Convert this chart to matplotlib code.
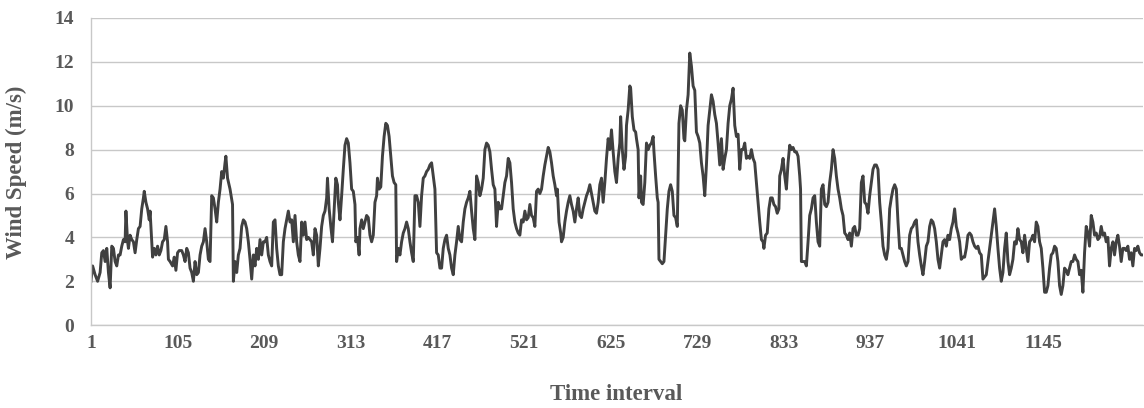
import matplotlib
matplotlib.use("Agg")
import matplotlib.pyplot as plt

time_index = [
    1, 3, 6, 9, 12, 14, 16, 18, 20, 22, 24, 26, 28, 30, 32, 34, 36, 38, 40, 42,
    43, 45, 46, 48, 50, 52, 54, 56, 58, 60, 62, 64, 65, 67, 69, 71, 72, 74, 75, 77,
    79, 81, 83, 85, 87, 89, 91, 93, 94, 96, 99, 101, 103, 105, 107, 110, 112, 114, 116, 118,
    120, 122, 124, 126, 128, 130, 132, 134, 136, 138, 140, 142, 144, 146, 148, 150, 152, 154, 156, 158,
    160, 162, 163, 165, 168, 171, 172, 174, 176, 178, 180, 182, 184, 186, 188, 190, 192, 194, 196, 198,
    200, 202, 204, 206, 208, 210, 212, 214, 216, 218, 220, 222, 224, 226, 228, 230, 232, 234, 236, 238,
    240, 242, 244, 246, 248, 250, 252, 254, 256, 258, 260, 262, 264, 266, 268, 270, 272, 274, 276, 278,
    280, 282, 284, 285, 287, 289, 291, 293, 295, 297, 298, 300, 302, 304, 306, 308, 310, 312, 314, 316,
    318, 319, 321, 323, 324, 326, 328, 330, 332, 334, 336, 338, 340, 342, 344, 345, 347, 349, 351, 353,
    355, 357, 359, 361, 363, 365, 367, 368, 370, 372, 374, 376, 378, 380, 382, 384, 386, 388, 390, 392,
    394, 396, 398, 400, 402, 404, 406, 408, 410, 412, 414, 416, 418, 420, 422, 424, 426, 428, 430, 432,
    434, 436, 438, 440, 442, 444, 446, 448, 450, 452, 454, 456, 458, 460, 462, 464, 466, 468, 470, 472,
    474, 476, 478, 480, 482, 484, 486, 488, 490, 492, 494, 496, 498, 500, 502, 504, 506, 508, 510, 512,
    514, 516, 518, 520, 522, 524, 526, 528, 530, 532, 534, 536, 538, 540, 542, 544, 546, 548, 550, 552,
    554, 556, 558, 560, 561, 563, 565, 566, 568, 570, 572, 574, 576, 578, 580, 582, 584, 586, 588, 590,
    592, 594, 596, 598, 600, 602, 604, 606, 608, 610, 612, 614, 616, 618, 620, 622, 624, 626, 628, 630,
    632, 634, 636, 637, 639, 641, 643, 644, 646, 648, 649, 651, 653, 655, 656, 658, 659, 661, 662, 664,
    666, 668, 670, 672, 674, 676, 677, 679, 681, 682, 683, 685, 687, 689, 691, 693, 695, 697, 699, 701,
    703, 705, 707, 709, 711, 713, 714, 716, 718, 720, 722, 724, 726, 728, 730, 732, 734, 736, 738, 740,
    742, 744, 746, 748, 750, 752, 754, 756, 758, 760, 762, 764, 766, 768, 770, 772, 774, 776, 778, 780,
    782, 784, 786, 788, 790, 792, 794, 796, 798, 800, 802, 804, 806, 808, 809, 811, 813, 815, 817, 819,
    821, 823, 825, 827, 828, 830, 832, 834, 836, 838, 840, 842, 844, 846, 848, 850, 852, 853, 854, 856,
    858, 860, 862, 864, 866, 868, 870, 872, 874, 876, 878, 880, 882, 884, 886, 888, 890, 892, 894, 896,
    898, 900, 902, 904, 906, 908, 910, 912, 914, 916, 918, 920, 922, 924, 926, 928, 930, 932, 934, 936,
    938, 940, 942, 944, 946, 948, 950, 952, 954, 956, 958, 960, 962, 964, 966, 968, 970, 972, 974, 976,
    978, 980, 982, 984, 986, 988, 990, 992, 994, 996, 998, 1000, 1002, 1004, 1006, 1008, 1010, 1012, 1014, 1016,
    1018, 1020, 1022, 1024, 1026, 1028, 1030, 1032, 1034, 1036, 1038, 1040, 1042, 1044, 1046, 1048, 1050, 1052, 1054, 1056,
    1058, 1060, 1062, 1064, 1066, 1068, 1070, 1072, 1074, 1076, 1078, 1080, 1082, 1084, 1086, 1088, 1090, 1092, 1094, 1096,
    1098, 1100, 1102, 1104, 1106, 1108, 1110, 1112, 1114, 1116, 1118, 1120, 1122, 1124, 1126, 1128, 1130, 1132, 1134, 1136,
    1138, 1140, 1142, 1144, 1146, 1148, 1150, 1152, 1154, 1156, 1158, 1160, 1162, 1164, 1166, 1168, 1170, 1172, 1174, 1176,
    1178, 1180, 1182, 1184, 1186, 1188, 1190, 1192, 1194, 1196, 1198, 1200, 1202, 1204, 1206, 1208, 1210, 1212, 1214, 1216,
    1218, 1220, 1222, 1224, 1226, 1228, 1230, 1232, 1234, 1236, 1238, 1240, 1242, 1244, 1246, 1248, 1250, 1252, 1254, 1256,
    1258, 1260, 1262, 1264,
]

wind_speed = [
    2.0, 2.7, 2.3, 2.0, 2.4, 3.3, 3.4, 2.9, 3.5, 2.4, 1.7, 3.6, 3.5, 2.9, 2.7, 3.2, 3.2, 3.6, 3.9, 3.8,
    5.2, 3.8, 3.5, 4.1, 3.9, 3.8, 3.3, 3.9, 4.4, 4.5, 5.3, 5.8, 6.1, 5.6, 5.3, 4.8, 5.2, 3.8, 3.1, 3.5,
    3.2, 3.6, 3.2, 3.4, 3.8, 3.9, 4.5, 3.8, 3.0, 2.9, 2.7, 3.1, 2.5, 3.3, 3.4, 3.4, 3.2, 2.9, 3.5, 3.3,
    2.6, 2.4, 2.0, 2.9, 2.3, 2.4, 3.2, 3.6, 3.8, 4.4, 3.8, 3.0, 2.9, 5.9, 5.8, 5.3, 4.7, 5.6, 6.2, 7.0,
    6.7, 7.4, 7.7, 6.7, 6.2, 5.5, 2.0, 2.9, 2.4, 3.2, 3.5, 4.5, 4.8, 4.7, 4.4, 3.8, 3.0, 2.1, 3.2, 2.7,
    3.5, 3.0, 3.9, 3.2, 3.8, 3.8, 4.0, 3.2, 2.9, 2.7, 4.7, 4.8, 3.5, 2.7, 2.3, 2.3, 3.8, 4.4, 4.8, 5.2,
    4.7, 4.8, 3.8, 5.0, 3.8, 3.2, 2.9, 4.7, 4.1, 4.7, 3.9, 4.0, 3.9, 3.8, 3.2, 4.4, 4.1, 2.7, 3.5, 4.5,
    5.0, 5.2, 5.8, 6.7, 5.3, 4.5, 3.8, 5.3, 6.7, 6.4, 5.6, 4.8, 5.9, 7.1, 8.2, 8.5, 8.3, 7.4, 6.2, 6.1,
    5.5, 3.8, 4.0, 3.2, 4.4, 4.8, 4.4, 4.7, 5.0, 4.9, 4.1, 3.8, 4.1, 5.6, 5.9, 6.7, 6.2, 6.3, 7.7, 8.6,
    9.2, 9.1, 8.6, 7.7, 6.8, 6.5, 6.4, 2.9, 3.5, 3.2, 3.8, 4.2, 4.4, 4.7, 4.4, 3.8, 3.3, 2.9, 5.9, 5.9,
    5.6, 4.5, 5.9, 6.7, 6.8, 7.0, 7.1, 7.3, 7.4, 6.8, 6.2, 3.3, 3.2, 2.6, 2.6, 3.5, 3.9, 4.1, 3.5, 3.2,
    2.6, 2.3, 3.2, 3.8, 4.5, 3.9, 3.8, 4.7, 5.3, 5.6, 5.8, 6.1, 5.2, 4.4, 3.9, 6.8, 6.5, 5.9, 6.2, 6.7,
    8.0, 8.3, 8.2, 7.9, 7.1, 6.4, 6.2, 4.5, 5.6, 5.3, 5.3, 5.9, 6.5, 6.8, 7.6, 7.4, 6.5, 5.3, 4.7, 4.4,
    4.2, 4.1, 4.8, 4.7, 5.2, 4.8, 4.9, 5.5, 5.0, 4.9, 4.5, 6.1, 6.2, 6.0, 6.2, 6.8, 7.3, 7.7, 8.1, 7.9,
    7.4, 6.8, 6.4, 5.9, 6.2, 4.7, 4.2, 3.8, 4.0, 4.7, 5.2, 5.6, 5.9, 5.5, 5.2, 4.7, 5.3, 5.8, 5.0, 4.9,
    5.3, 5.6, 5.9, 6.1, 6.4, 6.0, 5.6, 5.2, 5.1, 5.6, 6.4, 6.7, 5.6, 6.5, 7.6, 8.5, 8.0, 8.9, 7.9, 7.0,
    6.5, 7.6, 8.3, 9.5, 8.0, 7.1, 7.7, 9.1, 9.8, 10.9, 10.8, 9.5, 8.9, 8.8, 8.5, 8.0, 5.8, 6.8, 5.6, 5.5,
    6.5, 8.3, 8.0, 8.2, 8.3, 8.6, 7.9, 6.8, 5.8, 5.6, 3.0, 2.9, 2.8, 2.9, 4.1, 5.3, 6.1, 6.4, 6.1, 5.0,
    4.9, 4.5, 9.2, 10.0, 9.8, 8.5, 8.4, 9.8, 10.5, 12.4, 11.8, 10.9, 10.7, 8.8, 8.6, 8.3, 7.4, 6.8, 5.9, 7.3,
    9.1, 9.8, 10.5, 10.2, 9.6, 9.2, 8.3, 7.3, 8.5, 7.1, 7.6, 8.0, 9.2, 10.0, 10.3, 10.8, 9.1, 8.6, 8.7, 7.1,
    8.0, 8.0, 8.3, 7.6, 7.7, 7.6, 8.0, 7.6, 7.4, 6.5, 5.6, 4.7, 3.9, 3.8, 3.5, 4.1, 4.2, 5.3, 5.8, 5.8,
    5.5, 5.4, 5.1, 5.3, 6.8, 7.1, 7.6, 6.8, 6.2, 7.4, 8.2, 8.0, 8.1, 7.9, 7.9, 7.7, 6.8, 6.2, 2.9, 2.9,
    2.9, 2.7, 3.8, 5.0, 5.3, 5.8, 5.9, 4.7, 3.8, 3.6, 6.2, 6.4, 5.5, 5.4, 5.6, 6.5, 7.1, 8.0, 7.6, 6.8,
    6.2, 5.8, 5.3, 5.0, 4.2, 4.1, 3.9, 4.2, 3.6, 4.4, 4.5, 4.1, 4.1, 4.4, 6.5, 6.8, 5.6, 5.5, 5.1, 5.9,
    6.5, 7.1, 7.3, 7.3, 7.1, 5.6, 4.7, 3.6, 3.2, 3.0, 3.5, 5.3, 5.8, 6.2, 6.4, 6.2, 4.7, 3.5, 3.5, 3.2,
    2.9, 2.7, 2.9, 4.1, 4.4, 4.5, 4.7, 4.8, 3.8, 3.2, 2.7, 2.3, 2.9, 3.6, 3.8, 4.5, 4.8, 4.7, 4.4, 3.8,
    3.0, 2.6, 3.2, 3.8, 3.9, 3.6, 4.1, 3.9, 4.4, 4.7, 5.3, 4.5, 4.2, 3.8, 3.0, 3.1, 3.1, 3.5, 4.1, 4.2,
    4.1, 3.8, 3.6, 3.5, 3.6, 3.3, 3.2, 2.1, 2.2, 2.3, 2.9, 3.5, 4.1, 4.7, 5.3, 4.5, 3.5, 2.6, 2.0, 2.4,
    3.5, 4.2, 2.9, 2.3, 2.6, 3.0, 3.8, 3.7, 4.4, 3.9, 3.8, 3.3, 4.1, 3.5, 2.9, 3.8, 3.9, 4.1, 3.8, 4.7,
    4.5, 3.8, 3.5, 2.6, 1.5, 1.5, 1.8, 2.6, 3.2, 3.3, 3.6, 3.5, 2.9, 1.8, 1.4, 1.8, 2.6, 2.5, 2.3, 2.6,
    2.9, 2.9, 3.2, 3.0, 2.9, 2.3, 2.5, 1.5, 3.3, 4.5, 4.2, 3.6, 5.0, 4.7, 4.1, 4.2, 3.9, 4.0, 4.5, 4.1,
    4.2, 3.8, 4.0, 2.7, 3.5, 3.8, 3.2, 3.8, 4.1, 3.6, 2.9, 3.5, 3.5, 3.4, 3.6, 3.0, 3.3, 2.7, 3.5, 3.4,
    3.6, 3.3, 3.2, 3.2,
]

x_ticks = [1, 105, 209, 313, 417, 521, 625, 729, 833, 937, 1041, 1145]
y_ticks = [0, 2, 4, 6, 8, 10, 12, 14]

plt.rcParams["font.family"] = ["Liberation Serif", "DejaVu Serif"]

fig = plt.figure(figsize=(11.44, 4.08), dpi=100)
ax = fig.add_axes([0.0795, 0.203, 0.9195, 0.753])

ax.plot(time_index, wind_speed, color="#404040", linewidth=2.1, solid_joinstyle="round")

ax.set_xlim(time_index[0], time_index[-1])
ax.set_ylim(0, 14)
ax.set_xticks(x_ticks)
ax.set_yticks(y_ticks)
ax.tick_params(length=0, labelsize=14, labelcolor="#595959")
ax.tick_params(axis="y", pad=12)
ax.tick_params(axis="x", pad=7)
for lab in ax.get_xticklabels() + ax.get_yticklabels():
    lab.set_fontweight("bold")

ax.grid(axis="y", color="#c8c8c8", linewidth=1.0)
ax.set_axisbelow(True)
for side in ["top", "right"]:
    ax.spines[side].set_visible(False)
for side in ["left", "bottom"]:
    ax.spines[side].set_color("#c8c8c8")
    ax.spines[side].set_linewidth(1.0)

fig.text(0.539, 0.032, "Time interval", fontsize=16.5, fontweight="bold",
         color="#595959", ha="center", va="center")
fig.text(0.014, 0.578, "Wind Speed (m/s)", fontsize=16.5, fontweight="bold",
         color="#595959", ha="center", va="center", rotation=90)

fig.savefig("out.png", dpi=100)
